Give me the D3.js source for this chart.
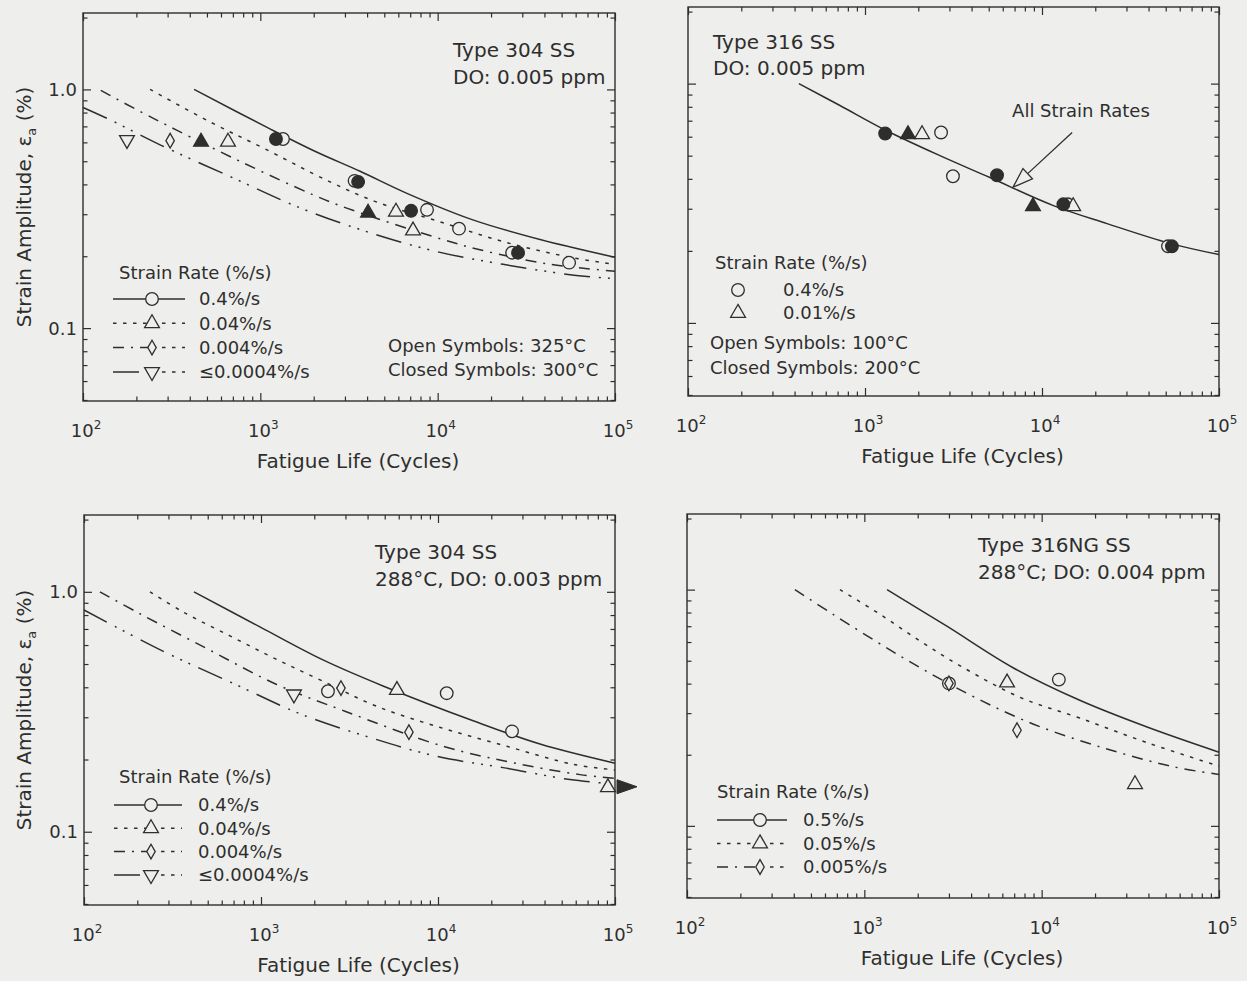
<!DOCTYPE html>
<html>
<head>
<meta charset="utf-8">
<script src="https://cdn.jsdelivr.net/npm/d3@7"></script>
<style>
body { margin: 0; background: #eeeeec; }
text { font-family: "DejaVu Sans", sans-serif; fill: #2e2e2e; }
</style>
</head>
<body>
<div id="chart-area"></div>
<script>
// axis ticks
var xMajor = [1e2, 1e3, 1e4, 1e5];
var xMajorExp = ["2", "3", "4", "5"];
var yMajor = [0.1, 1.0];
var yMajorLabels = ["0.1", "1.0"];

// curves, [cycles, strain amplitude %]
// top left: Type 304 SS, DO 0.005 ppm
var p1Rate04 = [[423, 1.0], [1105, 0.69], [2060, 0.548], [3650, 0.454], [6710, 0.367], [15800, 0.284], [37800, 0.235], [100000, 0.198]];
var p1Rate004 = [[239, 1.0], [520, 0.731], [1035, 0.569], [2470, 0.41], [4500, 0.338], [10300, 0.279], [24600, 0.228], [58000, 0.197], [100000, 0.185]];
var p1Rate0004 = [[126, 0.99], [212, 0.805], [335, 0.677], [798, 0.493], [1980, 0.362], [3040, 0.319], [10700, 0.235], [17300, 0.213], [41400, 0.186], [100000, 0.173]];
var p1Rate00004 = [[100, 0.84], [142, 0.746], [272, 0.586], [701, 0.426], [1675, 0.319], [4160, 0.251], [9930, 0.209], [23400, 0.185], [55800, 0.1675], [100000, 0.161]];

var p1CircleOpen = [[1342, 0.62], [3400, 0.414], [8710, 0.313], [13200, 0.261], [26300, 0.207], [55100, 0.188]];
var p1CircleFilled = [[1225, 0.62], [3560, 0.41], [7080, 0.31], [28400, 0.207]];
var p1TriOpen = [[657, 0.603], [5820, 0.307], [7260, 0.256]];
var p1TriFilled = [[463, 0.603], [4050, 0.304]];
var p1DiamondOpen = [[310, 0.61]];
var p1DownTriOpen = [[177, 0.615]];

// top right: Type 316 SS
var p2AllRates = [[423, 1.0], [722, 0.81], [1300, 0.64], [2650, 0.50], [5080, 0.405], [11500, 0.31], [23300, 0.26], [52800, 0.215], [100000, 0.193]];
var p2CircleOpen = [[2690, 0.625], [3140, 0.41], [14000, 0.313], [51500, 0.209]];
var p2CircleFilled = [[1300, 0.619], [5570, 0.414], [13200, 0.313], [54200, 0.209]];
var p2TriOpen = [[2100, 0.614], [15000, 0.307]];
var p2TriFilled = [[1750, 0.614], [8890, 0.307]];
var p2Arrow = [[14800, 0.625], [6860, 0.369]];
var p2ArrowText = [16600, 0.77];

// bottom left: Type 304 SS, 288C, DO 0.003 ppm
var p3Rate04 = [[418, 1.0], [986, 0.714], [2240, 0.52], [4890, 0.405], [15800, 0.29], [37700, 0.232], [100000, 0.193]];
var p3Rate004 = [[236, 1.0], [362, 0.825], [668, 0.655], [1217, 0.524], [2240, 0.424], [4470, 0.334], [10300, 0.272], [24500, 0.227], [58000, 0.191], [100000, 0.181]];
var p3Rate0004 = [[123, 1.0], [207, 0.81], [501, 0.577], [1217, 0.412], [2980, 0.318], [10700, 0.227], [26500, 0.194], [63400, 0.173], [100000, 0.167]];
var p3Rate00004 = [[100, 0.84], [279, 0.566], [713, 0.412], [1683, 0.309], [4130, 0.247], [9860, 0.206], [23300, 0.185], [55700, 0.165], [100000, 0.158]];

var p3CircleOpen = [[2390, 0.385], [11200, 0.378], [26200, 0.262]];
var p3TriOpen = [[5860, 0.389], [91200, 0.153]];
var p3DiamondOpen = [[2830, 0.397], [6850, 0.26]];
var p3DownTriOpen = [[1535, 0.374]];
var p3Runout = [[100000, 0.154]];

// bottom right: Type 316NG SS
var p4Rate05 = [[1343, 1.0], [2920, 0.70], [6900, 0.467], [16400, 0.34], [39300, 0.262], [100000, 0.205]];
var p4Rate005 = [[729, 1.0], [1227, 0.786], [2060, 0.606], [3470, 0.476], [7550, 0.35], [16400, 0.286], [39300, 0.225], [100000, 0.179]];
var p4Rate0005 = [[406, 1.0], [666, 0.786], [1590, 0.524], [3790, 0.364], [8930, 0.27], [22200, 0.214], [55100, 0.178], [100000, 0.165]];

var p4CircleOpen = [[3000, 0.401], [12500, 0.416]];
var p4TriOpen = [[6380, 0.404], [33600, 0.15]];
var p4DiamondOpen = [[3000, 0.401], [7260, 0.254]];

var bg = "#eeeeec", ink = "#2e2e2e";
var dashes = {solid: null, dotted: "3.5,6.5", dashdot: "11,7,2,7", longdash: "26,9,2,7,2,7,2,9"};
var symSize = {circle: 125, diamond: 62, tri: 95, dtri: 95};

var panels = [
	{left: 83, top: 13, width: 532, height: 388, yLabels: true,
	 curves: [[p1Rate04, "solid"], [p1Rate004, "dotted"], [p1Rate0004, "dashdot"], [p1Rate00004, "longdash"]],
	 points: [[p1CircleOpen, "circle", false], [p1CircleFilled, "circle", true], [p1TriOpen, "tri", false],
	          [p1TriFilled, "tri", true], [p1DiamondOpen, "diamond", false], [p1DownTriOpen, "dtri", false]],
	 title: [[370, 37, "Type 304 SS"], [370, 64, "DO: 0.005 ppm"]],
	 notes: [[305, 333, "Open Symbols: 325°C"], [305, 357, "Closed Symbols: 300°C"]],
	 legend: {x: 36, y: 260, lineX0: 30, lineX1: 102, markX: 69, textX: 116, dy: 24.3, first: 26,
	          items: [["0.4%/s", "circle", "solid"], ["0.04%/s", "tri", "dotted"], ["0.004%/s", "diamond", "dashdot"], ["≤0.0004%/s", "dtri", "longdash"]]}},
	{left: 688, top: 7, width: 531, height: 389, yLabels: false,
	 curves: [[p2AllRates, "solid"]],
	 points: [[p2CircleOpen, "circle", false], [p2TriOpen, "tri", false], [p2CircleFilled, "circle", true], [p2TriFilled, "tri", true]],
	 title: [[25, 35, "Type 316 SS"], [25, 61, "DO: 0.005 ppm"]],
	 notes: [[22, 336, "Open Symbols: 100°C"], [22, 361, "Closed Symbols: 200°C"]],
	 legend: {x: 27, y: 256, lineX0: null, markX: 50, textX: 95, dy: 23, first: 27,
	          items: [["0.4%/s", "circle", null], ["0.01%/s", "tri", null]]}},
	{left: 84, top: 515, width: 531, height: 390, yLabels: true,
	 curves: [[p3Rate04, "solid"], [p3Rate004, "dotted"], [p3Rate0004, "dashdot"], [p3Rate00004, "longdash"]],
	 points: [[p3CircleOpen, "circle", false], [p3TriOpen, "tri", false], [p3DiamondOpen, "diamond", false], [p3DownTriOpen, "dtri", false]],
	 title: [[291, 37, "Type 304 SS"], [291, 64, "288°C, DO: 0.003 ppm"]],
	 notes: [],
	 legend: {x: 35, y: 262, lineX0: 30, lineX1: 98, markX: 67, textX: 114, dy: 23.3, first: 28,
	          items: [["0.4%/s", "circle", "solid"], ["0.04%/s", "tri", "dotted"], ["0.004%/s", "diamond", "dashdot"], ["≤0.0004%/s", "dtri", "longdash"]]}},
	{left: 687, top: 514, width: 532, height: 384, yLabels: false,
	 curves: [[p4Rate05, "solid"], [p4Rate005, "dotted"], [p4Rate0005, "dashdot"]],
	 points: [[p4CircleOpen, "circle", false], [p4TriOpen, "tri", false], [p4DiamondOpen, "diamond", false]],
	 title: [[291, 31, "Type 316NG SS"], [291, 58, "288°C; DO: 0.004 ppm"]],
	 notes: [],
	 legend: {x: 30, y: 278, lineX0: 30, lineX1: 100, markX: 73, textX: 116, dy: 23.5, first: 28,
	          items: [["0.5%/s", "circle", "solid"], ["0.05%/s", "tri", "dotted"], ["0.005%/s", "diamond", "dashdot"]]}}
];

var svg = d3.select("#chart-area")
	.append("svg")
		.attr("width", 1247)
		.attr("height", 981);

svg.append("rect")
	.attr("width", 1247)
	.attr("height", 981)
	.attr("fill", bg);

function minorTicks(lo, hi) {
	var out = [];
	for (var e = Math.floor(Math.log10(lo)); e <= Math.ceil(Math.log10(hi)); e++) {
		for (var m = 2; m <= 9; m++) {
			var v = m * Math.pow(10, e);
			if (v >= lo * 0.999 && v <= hi * 1.001) out.push(v);
		}
	}
	return out;
}

function marker(g, kind, filled, cx, cy) {
	var type = kind === "circle" ? d3.symbolCircle : (kind === "diamond" ? d3.symbolDiamond : d3.symbolTriangle);
	g.append("path")
		.attr("d", d3.symbol().type(type).size(symSize[kind])())
		.attr("transform", "translate(" + cx + "," + cy + ")" + (kind === "dtri" ? " rotate(180)" : ""))
		.attr("fill", filled ? ink : bg)
		.attr("stroke", ink)
		.attr("stroke-width", 1.3);
}

var yDomain = [0.0495, 2.09];

panels.forEach(function(p, pi) {
	var g = svg.append("g")
		.attr("transform", "translate(" + p.left + ", " + p.top + ")");

	var x = d3.scaleLog().domain([1e2, 1e5]).range([0, p.width]);
	var y = d3.scaleLog().domain(yDomain).range([p.height, 0]);

	// ticks on all four sides, pointing inward
	var xMinor = minorTicks(1e2, 1e5);
	var yMinor = minorTicks(yDomain[0], yDomain[1]);
	g.append("g").attr("transform", "translate(0," + p.height + ")")
		.call(d3.axisBottom(x).tickValues(xMinor).tickSize(-4.5).tickFormat(""));
	g.append("g")
		.call(d3.axisTop(x).tickValues(xMinor).tickSize(-4.5).tickFormat(""));
	g.append("g").attr("transform", "translate(0," + p.height + ")")
		.call(d3.axisBottom(x).tickValues(xMajor).tickSize(-8).tickFormat(""));
	g.append("g")
		.call(d3.axisTop(x).tickValues(xMajor).tickSize(-8).tickFormat(""));
	g.append("g")
		.call(d3.axisLeft(y).tickValues(yMinor).tickSize(-4.5).tickFormat(""));
	g.append("g").attr("transform", "translate(" + p.width + ",0)")
		.call(d3.axisRight(y).tickValues(yMinor).tickSize(-4.5).tickFormat(""));
	g.append("g")
		.call(d3.axisLeft(y).tickValues(yMajor).tickSize(-8).tickFormat(""));
	g.append("g").attr("transform", "translate(" + p.width + ",0)")
		.call(d3.axisRight(y).tickValues(yMajor).tickSize(-8).tickFormat(""));
	g.selectAll(".domain").remove();
	g.selectAll(".tick line").attr("stroke", ink).attr("stroke-width", 1.2);

	g.append("rect")
		.attr("width", p.width)
		.attr("height", p.height)
		.attr("fill", "none")
		.attr("stroke", ink)
		.attr("stroke-width", 1.4);

	// tick labels
	xMajor.forEach(function(v, i) {
		var t = g.append("text")
			.attr("x", x(v) + 3)
			.attr("y", p.height + 36)
			.attr("text-anchor", "middle")
			.attr("font-size", "18px");
		t.append("tspan").text("10");
		t.append("tspan").attr("dy", -8).attr("font-size", "12px").text(xMajorExp[i]);
	});
	if (p.yLabels) {
		yMajor.forEach(function(v, i) {
			g.append("text")
				.attr("x", -6)
				.attr("y", y(v))
				.attr("dy", "0.36em")
				.attr("text-anchor", "end")
				.attr("font-size", "18px")
				.text(yMajorLabels[i]);
		});
		var yt = g.append("text")
			.attr("transform", "translate(" + (31 - p.left) + "," + (p.height / 2) + ") rotate(-90)")
			.attr("text-anchor", "middle")
			.attr("font-size", "20px");
		yt.append("tspan").text("Strain Amplitude, ε");
		yt.append("tspan").attr("dy", 5).attr("font-size", "13px").text("a");
		yt.append("tspan").attr("dy", -5).text(" (%)");
	}

	g.append("text")
		.attr("x", p.width / 2 + 9)
		.attr("y", p.height + 67)
		.attr("text-anchor", "middle")
		.attr("font-size", "20px")
		.text("Fatigue Life (Cycles)");

	// curves
	var line = d3.line()
		.x(function(d) { return x(d[0]); })
		.y(function(d) { return y(d[1]); })
		.curve(d3.curveCatmullRom.alpha(0.5));

	p.curves.forEach(function(c) {
		g.append("path")
			.attr("d", line(c[0]))
			.attr("fill", "none")
			.attr("stroke", ink)
			.attr("stroke-width", 1.5)
			.attr("stroke-dasharray", dashes[c[1]]);
	});

	// data symbols
	p.points.forEach(function(s) {
		s[0].forEach(function(d) {
			marker(g, s[1], s[2], x(d[0]), y(d[1]));
		});
	});

	// texts
	p.title.concat(p.notes).forEach(function(t, i) {
		g.append("text")
			.attr("x", t[0])
			.attr("y", t[1])
			.attr("dy", "0.36em")
			.attr("font-size", i < 2 ? "20px" : "18px")
			.text(t[2]);
	});

	// legend
	var L = p.legend;
	g.append("text")
		.attr("x", L.x)
		.attr("y", L.y)
		.attr("dy", "0.36em")
		.attr("font-size", "18px")
		.text("Strain Rate (%/s)");
	L.items.forEach(function(it, i) {
		var ly = L.y + L.first + i * L.dy;
		if (L.lineX0 !== null) {
			g.append("line")
				.attr("x1", L.lineX0).attr("x2", L.markX)
				.attr("y1", ly).attr("y2", ly)
				.attr("stroke", ink).attr("stroke-width", 1.5)
				.attr("stroke-dasharray", dashes[it[2]]);
			g.append("line")
				.attr("x1", L.markX).attr("x2", L.lineX1)
				.attr("y1", ly).attr("y2", ly)
				.attr("stroke", ink).attr("stroke-width", 1.5)
				.attr("stroke-dasharray", it[2] === "solid" ? null : dashes.dotted);
		}
		marker(g, it[1], false, L.markX, ly);
		g.append("text")
			.attr("x", L.textX)
			.attr("y", ly)
			.attr("dy", "0.36em")
			.attr("font-size", "18px")
			.text(it[0]);
	});

	// panel specific annotations
	if (pi === 1) {
		var a0 = [x(p2Arrow[0][0]), y(p2Arrow[0][1])];
		var a1 = [x(p2Arrow[1][0]), y(p2Arrow[1][1])];
		var ang = Math.atan2(a1[1] - a0[1], a1[0] - a0[0]);
		var hl = 20, hw = 7;
		var bx = a1[0] - hl * Math.cos(ang), by = a1[1] - hl * Math.sin(ang);
		g.append("line")
			.attr("x1", a0[0]).attr("y1", a0[1])
			.attr("x2", bx).attr("y2", by)
			.attr("stroke", ink).attr("stroke-width", 1.3);
		g.append("path")
			.attr("d", "M" + a1[0] + "," + a1[1] +
				"L" + (bx + hw * Math.sin(ang)) + "," + (by - hw * Math.cos(ang)) +
				"L" + (bx - hw * Math.sin(ang)) + "," + (by + hw * Math.cos(ang)) + "Z")
			.attr("fill", bg)
			.attr("stroke", ink)
			.attr("stroke-width", 1.3);
		g.append("text")
			.attr("x", x(p2ArrowText[0]))
			.attr("y", y(p2ArrowText[1]))
			.attr("dy", "0.36em")
			.attr("text-anchor", "middle")
			.attr("font-size", "18px")
			.text("All Strain Rates");
	}
	if (pi === 2) {
		p3Runout.forEach(function(d) {
			var rx = x(d[0]), ry = y(d[1]);
			g.append("path")
				.attr("d", "M" + (rx + 2) + "," + (ry - 7) + "L" + (rx + 22) + "," + ry + "L" + (rx + 2) + "," + (ry + 7) + "Z")
				.attr("fill", ink)
				.attr("stroke", ink)
				.attr("stroke-width", 1);
		});
	}
});
</script>
</body>
</html>
